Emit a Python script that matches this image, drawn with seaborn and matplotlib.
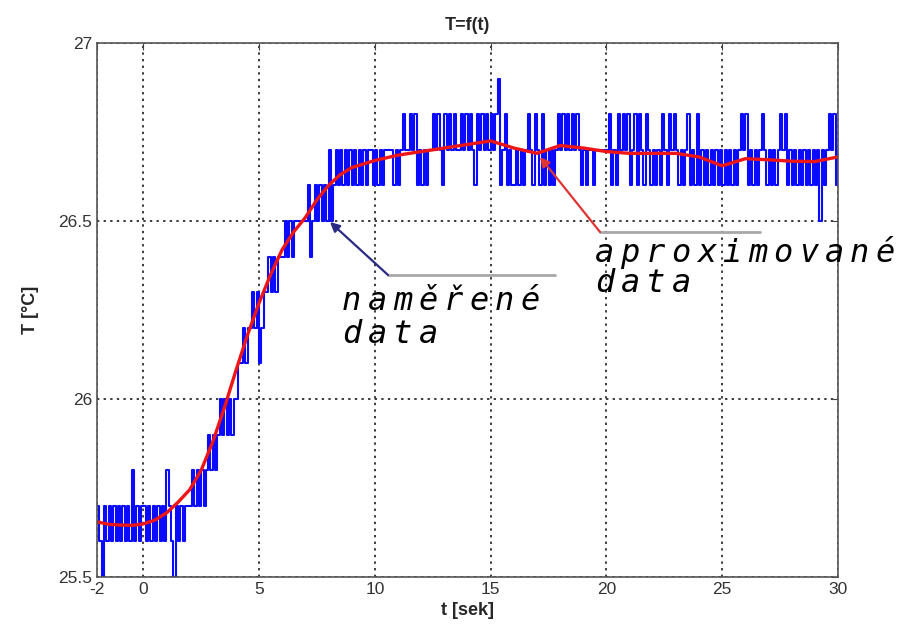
import numpy as np
import pandas as pd
import matplotlib
matplotlib.use('Agg')
import matplotlib.pyplot as plt
import seaborn as sns

# measured samples, one letter per 0.1 s starting at t = -2 s
# a=25.4, b=25.5, c=25.6 ... p=26.9 (0.1 degC per letter)
level_codes = "abcdefghijklmnop"
measured_segments = [
    "dcadcdcdcd", "cdcdcecdcd", "dcdcdcdcdc", "edcbdcdcdd", "dedededefe",
    "fefgfgfgfg", "ghhihiijij", "hijjkjkjkk", "klklklllll", "lmklmlmlml",
    "nlmnmnmnmn", "mnmnmnmnnm", "nmnmnnnnmn", "mnonnonomn", "mnmnnononm",
    "onononnono", "nonmononon", "onopmnomnm", "mnmnmnonmo", "nmomnmnmno",
    "nononononm", "nmnnmnnnnn", "nomnmonono", "mnomonmonm", "nmnmonmono",
    "nmnmnomnmo", "mnmnmnmnmn", "mnmnmnmnon", "omnmnmnonm", "nmnmnonomn",
    "mnmnmnmnmn", "mnlnmnonom", "n",
]
t_start = -2.0
t_step = 0.1

# approximated (smoothed) curve
fit_t = [-2, -1.5, -1, -0.5, 0, 0.5, 1, 1.5, 2, 2.5, 3, 3.5, 4, 4.5, 5, 5.5,
         6, 6.5, 7, 7.5, 8, 8.5, 9, 10, 11, 12, 13, 14, 15, 16, 17, 18, 19,
         20, 21, 22, 23, 24, 25, 26, 27, 28, 29, 30]
fit_T = [25.655, 25.648, 25.646, 25.645, 25.649, 25.66, 25.68, 25.71, 25.745,
         25.80, 25.88, 25.975, 26.08, 26.18, 26.27, 26.35, 26.42, 26.47, 26.51,
         26.56, 26.60, 26.63, 26.65, 26.67, 26.685, 26.695, 26.705, 26.715,
         26.725, 26.705, 26.69, 26.712, 26.705, 26.695, 26.69, 26.69, 26.69,
         26.68, 26.655, 26.675, 26.672, 26.668, 26.667, 26.68]

x_ticks = [-2, 0, 5, 10, 15, 20, 25, 30]
y_ticks = [25.5, 26, 26.5, 27]
y_tick_labels = ['25.5', '26', '26.5', '27']

codes = "".join(measured_segments)
measured = pd.DataFrame({
    't': t_start + t_step * np.arange(len(codes)),
    'T': [25.4 + 0.1 * level_codes.index(c) for c in codes],
})
fit = pd.DataFrame({'t': fit_t, 'T': fit_T})

sns.set_style("white")
plt.rcParams['font.family'] = ['Liberation Sans', 'DejaVu Sans']
plt.rcParams['axes.unicode_minus'] = False

fig = plt.figure(figsize=(9.07, 6.33), dpi=100)
W, H = 907, 633
ax = fig.add_axes([97 / W, 1 - 577 / H, (838 - 97) / W, (577 - 43) / H])

sns.lineplot(data=measured, x='t', y='T', color='#0a0aff', linewidth=1.5,
             estimator=None, drawstyle='steps-post', ax=ax)
sns.lineplot(data=fit, x='t', y='T', color='#ee1515', linewidth=2.4,
             estimator=None, ax=ax)

ax.set_xlim(-2, 30)
ax.set_ylim(25.5, 27)
ax.set_xticks(x_ticks)
ax.set_yticks(y_ticks)
ax.set_yticklabels(y_tick_labels)
ax.grid(True, linestyle=(0, (1.2, 2.2)), color='#3a3a3a', linewidth=1.4)
ax.tick_params(direction='in', length=5, top=True, right=True,
               labelsize=12.5, labelcolor='#333333', color='#444444')
for s in ax.spines.values():
    s.set_color('#555555')
    s.set_linewidth(1.2)

ax.set_title('T=f(t)', fontsize=13, fontweight='bold', pad=9)
ax.set_xlabel('t [sek]', fontsize=13, fontweight='bold', labelpad=4)
ax.set_ylabel('T [°C]', fontsize=13, fontweight='bold', labelpad=14)


# leader lines for the two labels
def px_to_data(x, y):
    return (-2 + (x - 97) / (838 - 97) * 32, 27 - (y - 43) / (577 - 43) * 1.5)


ax.annotate('', xy=px_to_data(330, 222), xytext=px_to_data(388, 275),
            arrowprops=dict(arrowstyle='-|>', color='#2a2a85', lw=1.6,
                            mutation_scale=14, shrinkA=0, shrinkB=0),
            annotation_clip=False)
ax.plot(*zip(px_to_data(388, 275), px_to_data(555, 275)), color='#a8a8a8',
        lw=2.0, clip_on=False)
ax.annotate('', xy=px_to_data(540, 157), xytext=px_to_data(600, 232),
            arrowprops=dict(arrowstyle='-|>', color='#e03535', lw=1.6,
                            mutation_scale=14, shrinkA=0, shrinkB=0),
            annotation_clip=False)
ax.plot(*zip(px_to_data(600, 232), px_to_data(760, 232)), color='#a8a8a8',
        lw=2.0, clip_on=False)


def spaced(x_px, y_px, word):
    for i, ch in enumerate(word):
        fig.text((x_px + i * 25.5) / W, 1 - y_px / H, ch, fontsize=23,
                 family='DejaVu Sans Mono', style='italic',
                 ha='left', va='baseline', color='black')


spaced(342, 310, 'naměřené')
spaced(342, 343, 'data')
spaced(595, 262, 'aproximované')
spaced(595, 292, 'data')

fig.savefig('out.png', dpi=100, facecolor='white')
